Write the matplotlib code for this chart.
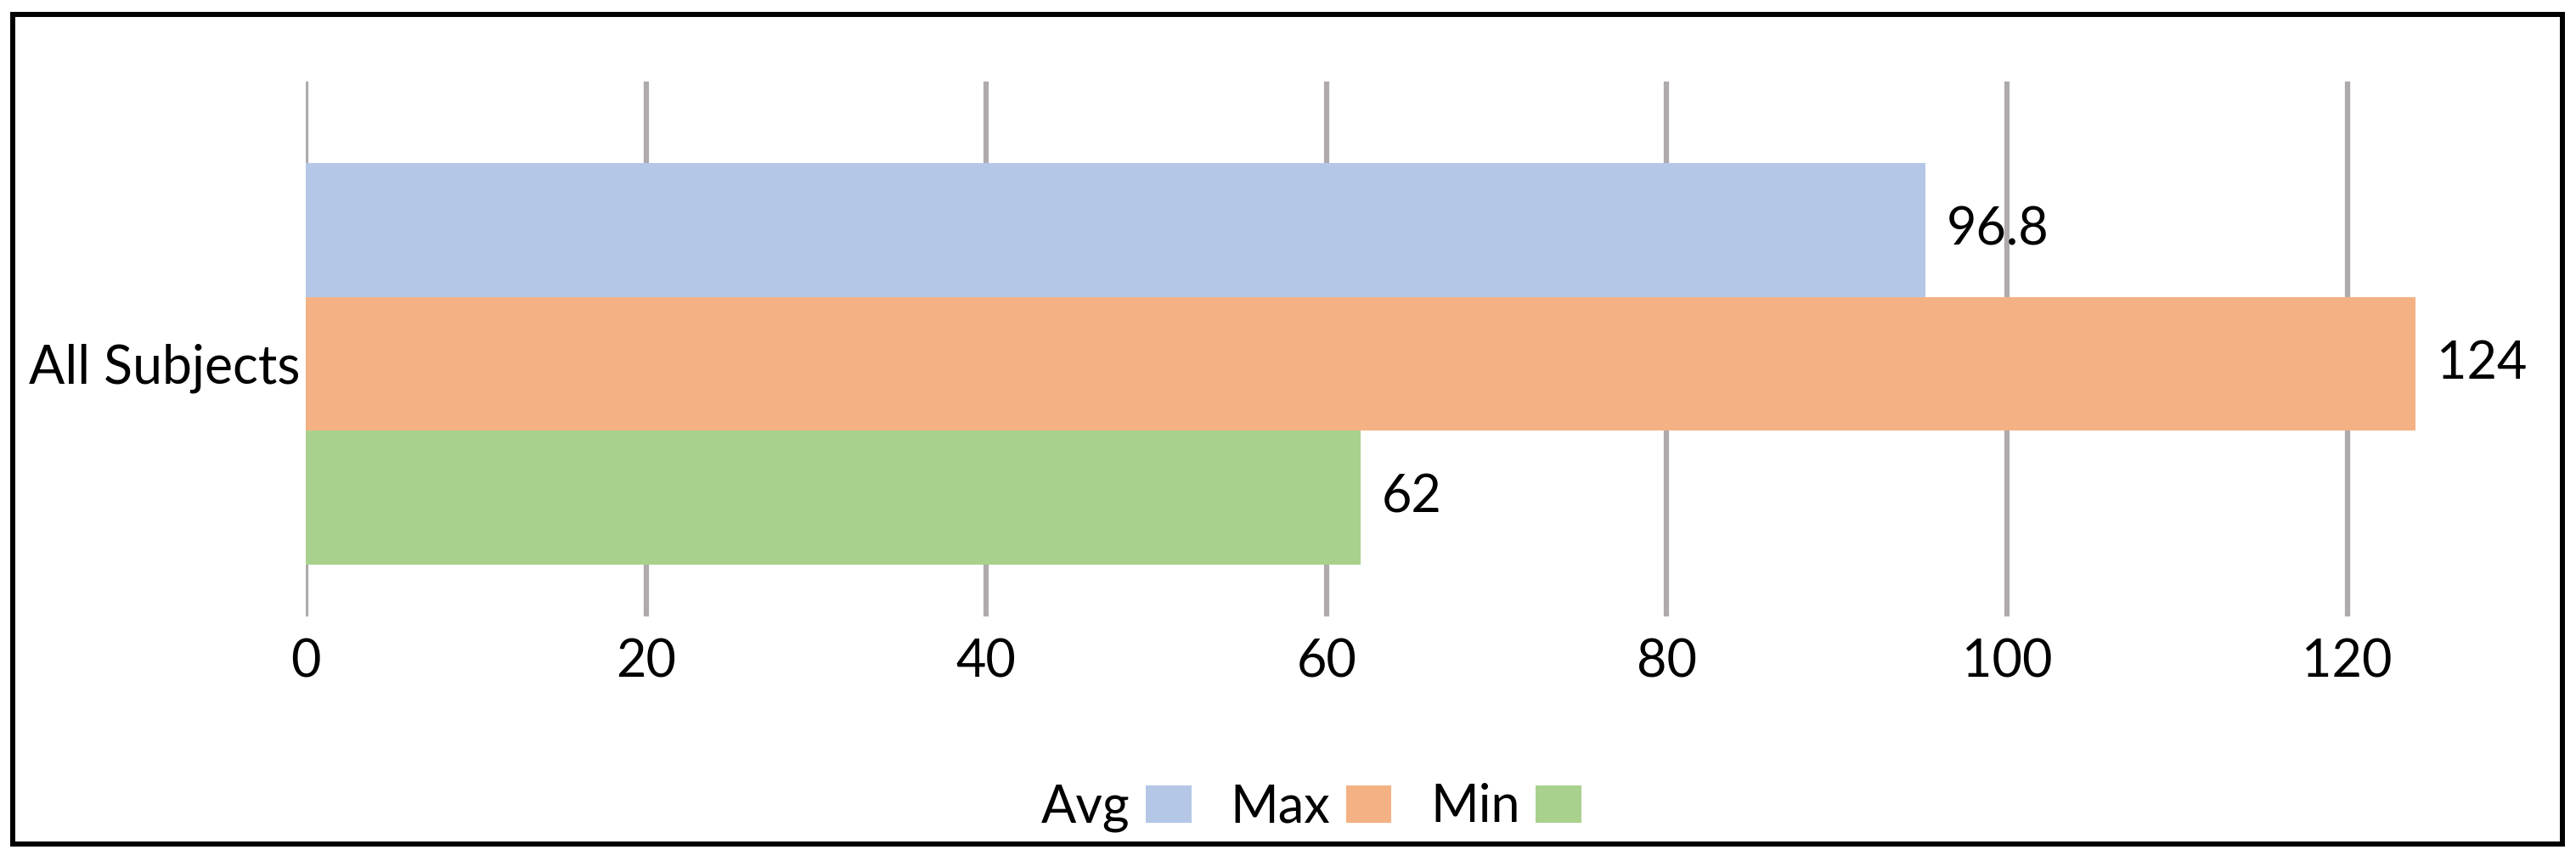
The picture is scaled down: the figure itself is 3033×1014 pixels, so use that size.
import matplotlib
matplotlib.use("Agg")
import matplotlib.pyplot as plt
from matplotlib.patches import Rectangle

plt.rcParams["font.family"] = ["Lato", "DejaVu Sans"]

# data
category = "All Subjects"
series = ["Avg", "Max", "Min"]
values = [95.2, 124, 62]            # bar lengths as drawn
value_labels = ["96.8", "124", "62"]  # labels printed next to the bars
x_ticks = [0, 20, 40, 60, 80, 100, 120]
colors = ["#B4C7E7", "#F4B183", "#A9D18E"]

W, H = 3033, 1014
fig = plt.figure(figsize=(W / 100, H / 100), dpi=100)
ax = fig.add_axes([360 / W, 1 - 726 / H, 2604 / W, 630 / H])

offsets = [1, 0, -1]
bars = []
for name, v, lab, off, c in zip(series, values, value_labels, offsets, colors):
    b = ax.barh(off, v, height=1.0, color=c, label=name, zorder=2)
    ax.bar_label(b, labels=[lab], padding=18, fontsize=44, color="black")
    bars.append(b)

ax.set_xlim(0, 130)
ax.set_ylim(-1.889, 2.111)
ax.set_xticks(x_ticks)
ax.set_yticks([0])
ax.set_yticklabels([category])
ax.tick_params(axis="x", length=0, pad=18, labelsize=44)
ax.tick_params(axis="y", length=0, pad=5, labelsize=45)
for s in ax.spines.values():
    s.set_visible(False)
ax.xaxis.grid(True, color="#AFABAB", linewidth=4.5)
ax.set_axisbelow(True)

fig.legend(handles=bars, labels=series, loc="center",
           bbox_to_anchor=(1544 / W, 1 - 951 / H), ncol=3, frameon=False,
           markerfirst=False, fontsize=44, handlelength=0.88,
           handleheight=0.74, handletextpad=0.3, columnspacing=0.75,
           borderpad=0, borderaxespad=0)

# outer frame
fig.add_artist(Rectangle((15 / W, 1 - 994 / H), 3002 / W, 977 / H,
                         transform=fig.transFigure, fill=False,
                         edgecolor="black", linewidth=4.3))

fig.savefig("out.png", dpi=100)
